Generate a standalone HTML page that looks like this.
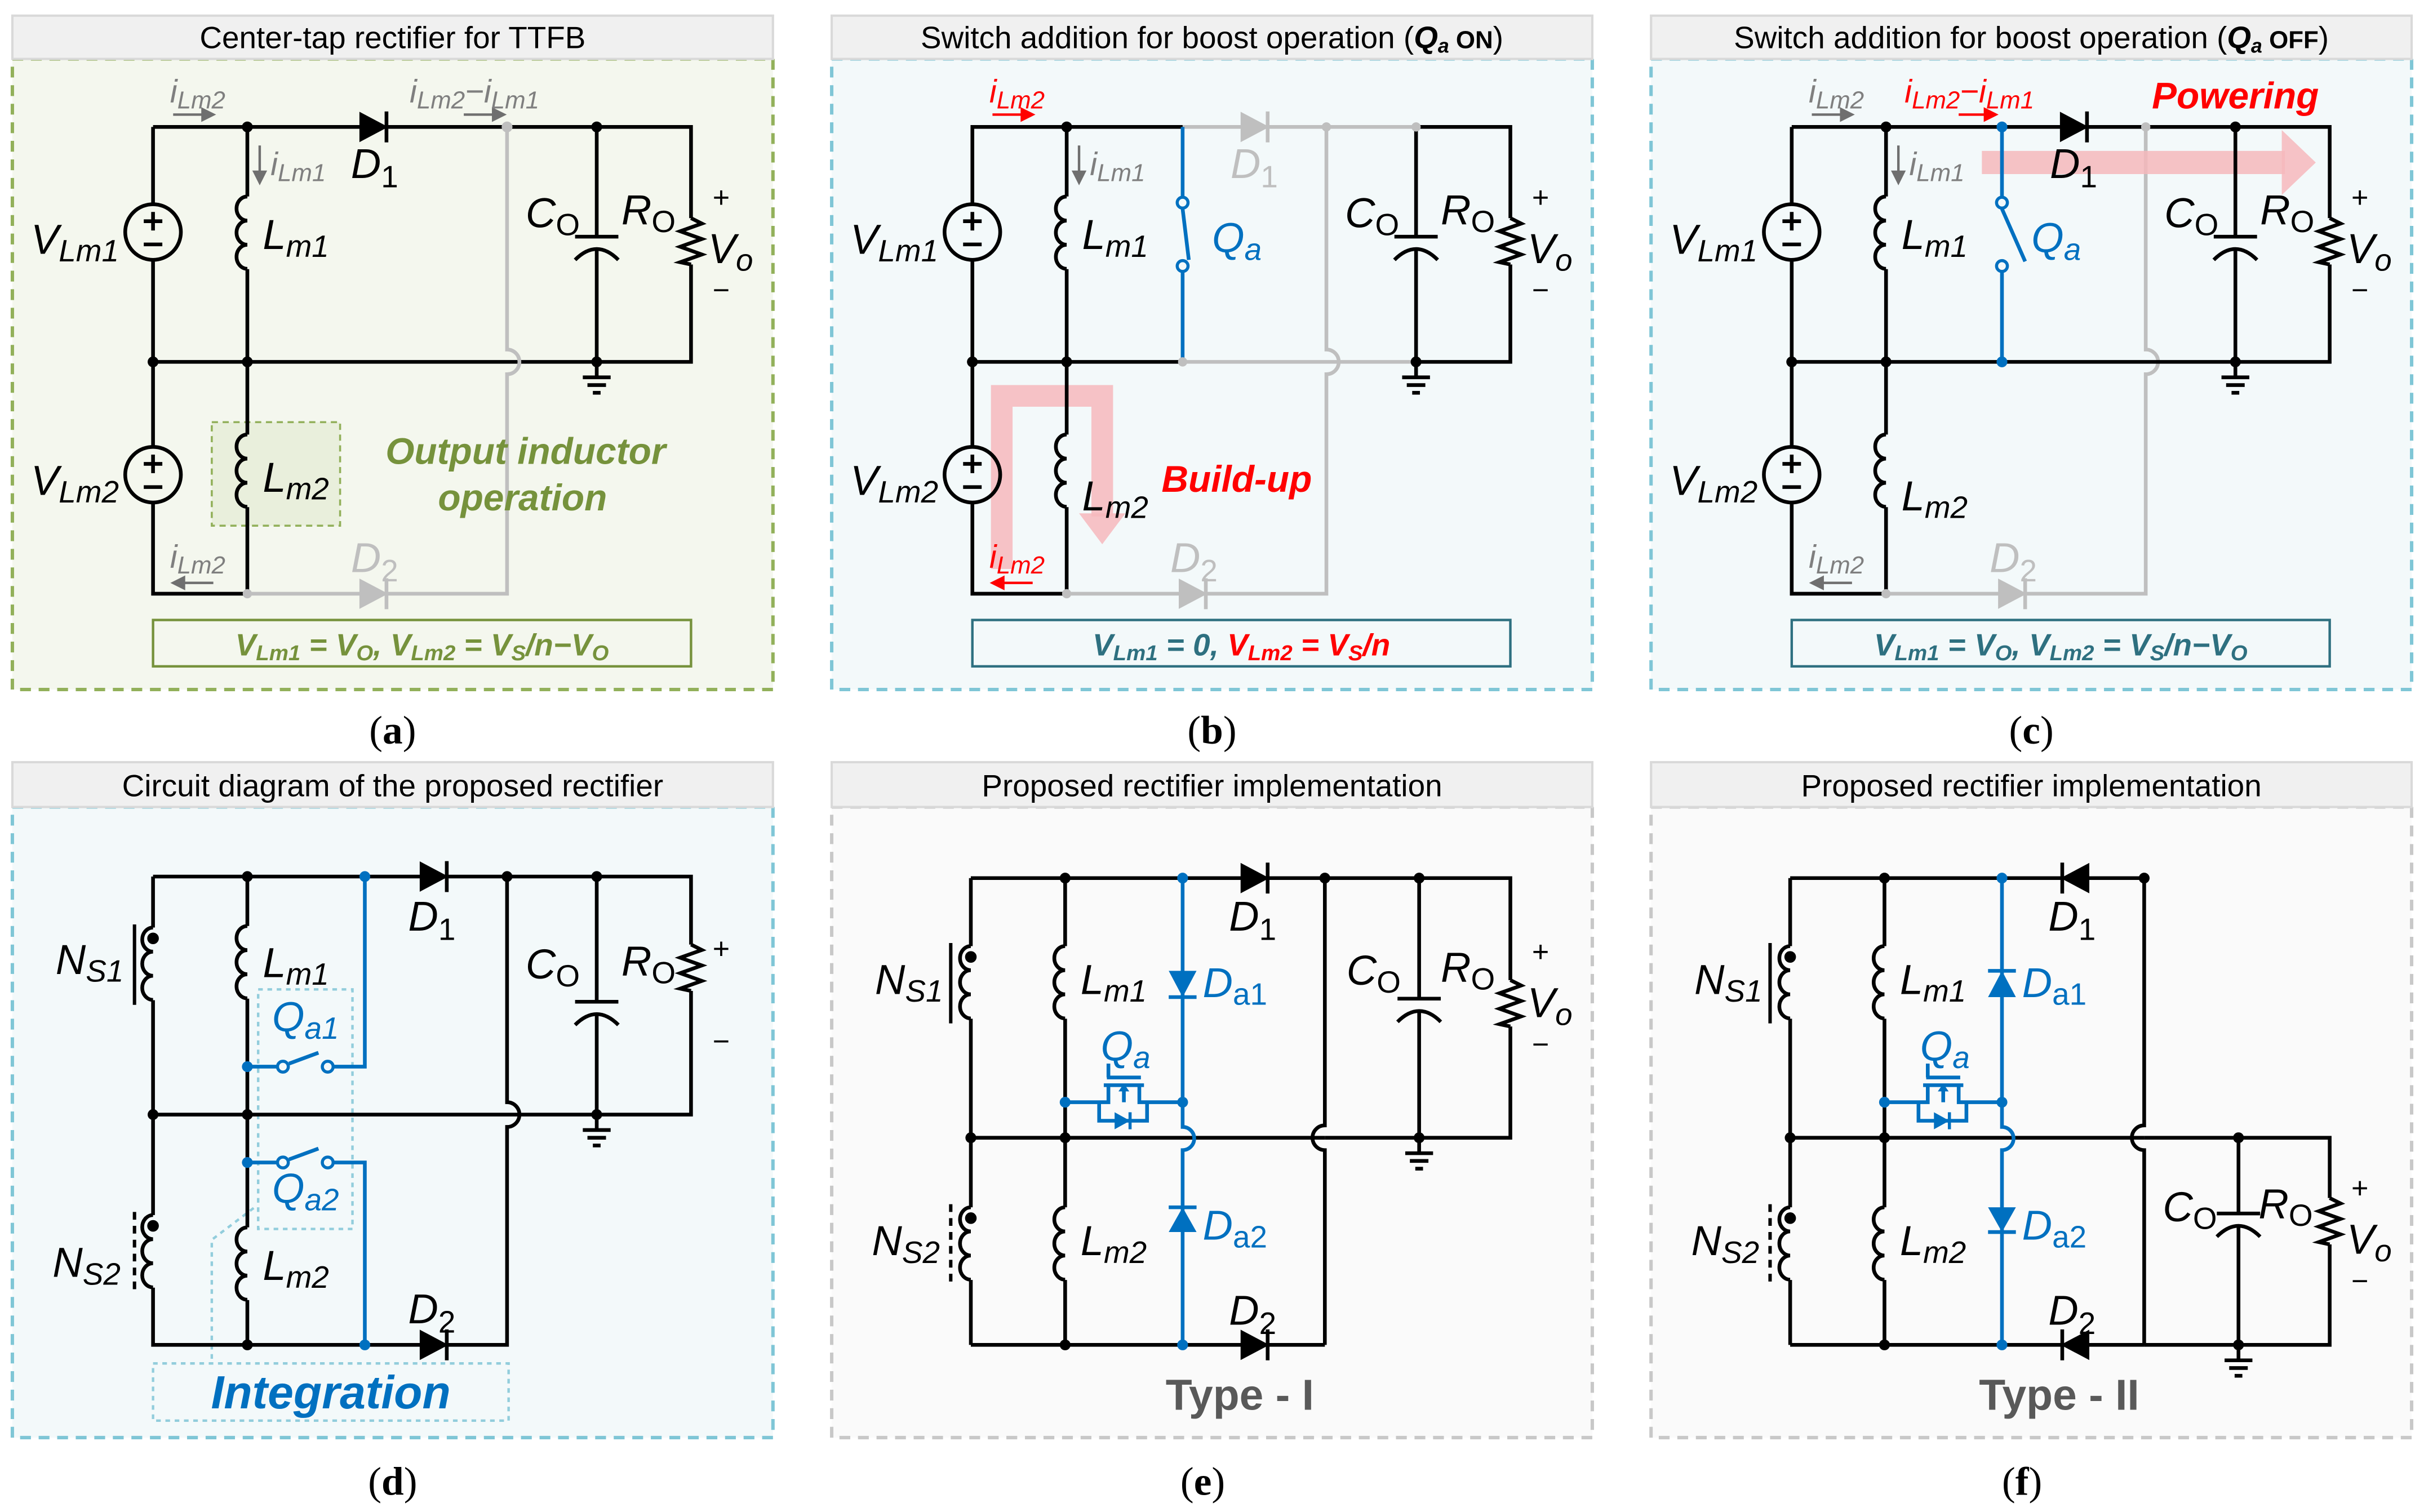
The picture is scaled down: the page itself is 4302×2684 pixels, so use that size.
<!DOCTYPE html>
<html><head><meta charset="utf-8">
<style>
html,body{margin:0;padding:0;background:#fff;}
svg{display:block;}
text{font-family:"Liberation Sans",Arial,sans-serif;}
.t{font-size:20px;fill:#000;}
.l{font-size:27px;font-style:italic;fill:#000;}
.c{font-size:21px;font-style:italic;fill:#7f7f7f;}
.cap{font-family:"Liberation Serif",serif;font-size:26px;fill:#000;}
.w{fill:none;stroke:#000;stroke-width:2.4;stroke-linejoin:miter;}
.g{fill:none;stroke:#bfbfbf;stroke-width:2.4;}
.b{fill:none;stroke:#0070c0;stroke-width:2.4;}
.pm{font-size:19px;fill:#000;}
</style></head><body>
<svg width="4302" height="2684" viewBox="0 0 1568 978" xmlns="http://www.w3.org/2000/svg">
<defs>
<path id="ind" d="M0 0 a7 7.8 0 0 0 0 15.6 a7 7.8 0 0 0 0 15.6 a7 7.8 0 0 0 0 15.6" fill="none" stroke-width="2.4"/>
<g id="dr"><polygon points="-9,-9 -9,9 8,0"/><line x1="8" y1="-10" x2="8" y2="10" stroke-width="2.4"/></g>
<g id="capS" fill="none" stroke-width="2.4"><line x1="-14" y1="0" x2="14" y2="0"/><path d="M-14 15 Q0 1 14 15"/></g>
<path id="res" d="M0 0 l7 3.5 l-14 5 l14 5 l-14 5 l14 5 l-14 5 l7 1.5" fill="none" stroke-width="2.4"/>
<g id="gnd" fill="none" stroke-width="2.4"><line x1="0" y1="0" x2="0" y2="10"/><line x1="-9" y1="10" x2="9" y2="10"/><line x1="-6" y1="15" x2="6" y2="15"/><line x1="-2.5" y1="20" x2="2.5" y2="20"/></g>
<g id="src" fill="none" stroke-width="2.4"><circle r="18"/><line x1="-6" y1="-7" x2="6" y2="-7"/><line x1="0" y1="-13" x2="0" y2="-1"/><line x1="-6" y1="8" x2="6" y2="8"/></g>
</defs>

<!-- ================= PANEL A ================= -->
<rect x="8" y="38" width="492" height="408" fill="#f4f7ee" stroke="#92b05a" stroke-width="2.2" stroke-dasharray="7 5"/>
<rect x="8" y="10" width="492" height="28" fill="#f0f0f0" stroke="#d9d9d9" stroke-width="1.5"/>
<text class="t" x="254" y="31" text-anchor="middle">Center-tap rectifier for TTFB</text>
<rect x="137" y="273" width="83" height="67" fill="#e9efdc" stroke="#92b05a" stroke-width="1.3" stroke-dasharray="4 3"/>
<path class="w" d="M99 82 H447 V141 M447 171 V234 H99 M99 82 V132 M99 168 V289 M99 325 V384 H160 M160 82 V127 M160 174 V281 M160 328 V384 M386 82 V153 M386 162 V234"/>
<use href="#ind" x="160" y="127" stroke="#000"/><use href="#ind" x="160" y="281" stroke="#000"/>
<use href="#dr" x="242" y="82" fill="#000" stroke="#000"/>
<use href="#capS" x="386" y="153" stroke="#000"/><use href="#res" x="447" y="141" stroke="#000"/>
<use href="#gnd" x="386" y="234" stroke="#000"/>
<use href="#src" x="99" y="150" stroke="#000"/><use href="#src" x="99" y="307" stroke="#000"/>
<path class="g" d="M160 384 H328 V242 a8 8 0 0 0 0 -16 V82"/>
<use href="#dr" x="242" y="384" fill="#bfbfbf" stroke="#bfbfbf"/>
<g fill="#000"><circle cx="160" cy="82" r="3.5"/><circle cx="99" cy="234" r="3.5"/><circle cx="160" cy="234" r="3.5"/><circle cx="386" cy="82" r="3.5"/><circle cx="386" cy="234" r="3.5"/></g>
<circle cx="328" cy="82" r="3.5" fill="#bfbfbf"/><circle cx="160" cy="384" r="3" fill="#bfbfbf"/>
<g stroke="#6f6f6f" stroke-width="1.6" fill="#6f6f6f">
<line x1="112" y1="74" x2="132" y2="74"/><polygon points="131,70.5 138,74 131,77.5"/>
<line x1="300" y1="74" x2="320" y2="74"/><polygon points="319,70.5 326,74 319,77.5"/>
<line x1="168" y1="94" x2="168" y2="112"/><polygon points="164.5,111 168,118 171.5,111"/>
<line x1="138" y1="377" x2="118" y2="377"/><polygon points="119,373.5 112,377 119,380.5"/>
</g>
<text class="c" x="110" y="66">i<tspan font-size="16" dy="4">Lm2</tspan></text>
<text class="c" x="175" y="113">i<tspan font-size="16" dy="4">Lm1</tspan></text>
<text class="c" x="265" y="66">i<tspan font-size="16" dy="4">Lm2</tspan><tspan dy="-4">−i</tspan><tspan font-size="16" dy="4">Lm1</tspan></text>
<text class="c" x="110" y="367">i<tspan font-size="16" dy="4">Lm2</tspan></text>
<text class="l" x="20" y="164">V<tspan font-size="20" dy="5">Lm1</tspan></text>
<text class="l" x="20" y="320">V<tspan font-size="20" dy="5">Lm2</tspan></text>
<text class="l" x="170" y="161">L<tspan font-size="20" dy="5">m1</tspan></text>
<text class="l" x="170" y="318">L<tspan font-size="20" dy="5">m2</tspan></text>
<text class="l" x="227" y="115">D<tspan font-size="20" dy="6" font-style="normal">1</tspan></text>
<text class="l" x="227" y="370" style="fill:#bfbfbf">D<tspan font-size="20" dy="6" font-style="normal">2</tspan></text>
<text class="l" x="340" y="147">C<tspan font-size="20" dy="5" font-style="normal">O</tspan></text>
<text class="l" x="402" y="145">R<tspan font-size="20" dy="5" font-style="normal">O</tspan></text>
<text class="pm" x="461" y="134">+</text><text class="pm" x="461" y="194">−</text>
<text class="l" x="458" y="170">V<tspan font-size="20" dy="5">o</tspan></text>
<text x="340" y="300" text-anchor="middle" font-size="24" font-weight="bold" font-style="italic" fill="#76923c">Output inductor</text>
<text x="338" y="330" text-anchor="middle" font-size="24" font-weight="bold" font-style="italic" fill="#76923c">operation</text>
<rect x="99" y="401" width="348" height="30" fill="none" stroke="#76923c" stroke-width="1.6"/>
<text x="273" y="424" text-anchor="middle" font-size="20" font-weight="bold" font-style="italic" fill="#76923c">V<tspan font-size="14" dy="3">Lm1</tspan><tspan dy="-3"> = V</tspan><tspan font-size="14" dy="3">O</tspan><tspan dy="-3">, V</tspan><tspan font-size="14" dy="3">Lm2</tspan><tspan dy="-3"> = V</tspan><tspan font-size="14" dy="3">S</tspan><tspan dy="-3">/n−V</tspan><tspan font-size="14" dy="3">O</tspan></text>
<text class="cap" x="254" y="481" text-anchor="middle">(<tspan font-weight="bold">a</tspan>)</text>

<!-- ================= PANEL B ================= -->
<g transform="translate(530,0)">
<rect x="8" y="38" width="492" height="408" fill="#f3f9fa" stroke="#7fc6d6" stroke-width="2.2" stroke-dasharray="7 5"/>
<rect x="8" y="10" width="492" height="28" fill="#f0f0f0" stroke="#d9d9d9" stroke-width="1.5"/>
<text class="t" x="254" y="31" text-anchor="middle">Switch addition for boost operation (<tspan font-weight="bold" font-style="italic">Q</tspan><tspan font-weight="bold" font-style="italic" font-size="13" dy="3">a</tspan><tspan font-weight="bold" font-size="16" dy="-3"> ON</tspan>)</text>
<path d="M118 368 V256 H183 V334" fill="none" stroke="#f6b9bc" stroke-width="14" opacity="0.85"/>
<polygon points="168,332 198,332 183,352" fill="#f6b9bc" opacity="0.85"/>
<path class="g" d="M235 82 H386 M235 234 H386 M160 384 H328 V242 a8 8 0 0 0 0 -16 V82"/>
<use href="#dr" x="282" y="82" fill="#bfbfbf" stroke="#bfbfbf"/>
<use href="#dr" x="242" y="384" fill="#bfbfbf" stroke="#bfbfbf"/>
<path class="w" d="M386 82 H447 V141 M447 171 V234 H386 M235 82 H99 V132 M99 168 V289 M99 325 V384 H160 M160 82 V127 M160 174 V281 M160 328 V384 M99 234 H235 M386 82 V153 M386 162 V234"/>
<use href="#ind" x="160" y="127" stroke="#000"/><use href="#ind" x="160" y="281" stroke="#000"/>
<use href="#capS" x="386" y="153" stroke="#000"/><use href="#res" x="447" y="141" stroke="#000"/>
<use href="#gnd" x="386" y="234" stroke="#000"/>
<use href="#src" x="99" y="150" stroke="#000"/><use href="#src" x="99" y="307" stroke="#000"/>
<path class="b" d="M235 82 V128 M235 135 L239 168 M235 176 V234"/>
<circle cx="235" cy="131" r="3.5" fill="#f3f9fa" stroke="#0070c0" stroke-width="2"/>
<circle cx="235" cy="172" r="3.5" fill="#f3f9fa" stroke="#0070c0" stroke-width="2"/>
<g fill="#000"><circle cx="160" cy="82" r="3.5"/><circle cx="99" cy="234" r="3.5"/><circle cx="160" cy="234" r="3.5"/><circle cx="386" cy="234" r="3.5"/></g>
<g fill="#bfbfbf"><circle cx="328" cy="82" r="3"/><circle cx="386" cy="82" r="3"/><circle cx="235" cy="234" r="3"/><circle cx="160" cy="384" r="3"/></g>
<g stroke="#ff0000" stroke-width="1.6" fill="#ff0000">
<line x1="112" y1="74" x2="132" y2="74"/><polygon points="131,70.5 138,74 131,77.5"/>
<line x1="138" y1="377" x2="118" y2="377"/><polygon points="119,373.5 112,377 119,380.5"/>
</g>
<g stroke="#6f6f6f" stroke-width="1.6" fill="#6f6f6f"><line x1="168" y1="94" x2="168" y2="112"/><polygon points="164.5,111 168,118 171.5,111"/></g>
<text class="c" x="110" y="66" style="fill:#ff0000">i<tspan font-size="16" dy="4">Lm2</tspan></text>
<text class="c" x="175" y="113">i<tspan font-size="16" dy="4">Lm1</tspan></text>
<text class="c" x="110" y="367" style="fill:#ff0000">i<tspan font-size="16" dy="4">Lm2</tspan></text>
<text class="l" x="20" y="164">V<tspan font-size="20" dy="5">Lm1</tspan></text>
<text class="l" x="20" y="320">V<tspan font-size="20" dy="5">Lm2</tspan></text>
<text class="l" x="170" y="161">L<tspan font-size="20" dy="5">m1</tspan></text>
<text class="l" x="170" y="330">L<tspan font-size="20" dy="5">m2</tspan></text>
<text class="l" x="266" y="115" style="fill:#bfbfbf">D<tspan font-size="20" dy="6" font-style="normal">1</tspan></text>
<text class="l" x="227" y="370" style="fill:#bfbfbf">D<tspan font-size="20" dy="6" font-style="normal">2</tspan></text>
<text class="l" x="254" y="163" style="fill:#0070c0">Q<tspan font-size="20" dy="5">a</tspan></text>
<text class="l" x="340" y="147">C<tspan font-size="20" dy="5" font-style="normal">O</tspan></text>
<text class="l" x="402" y="145">R<tspan font-size="20" dy="5" font-style="normal">O</tspan></text>
<text class="pm" x="461" y="134">+</text><text class="pm" x="461" y="194">−</text>
<text class="l" x="458" y="170">V<tspan font-size="20" dy="5">o</tspan></text>
<text x="270" y="318" text-anchor="middle" font-size="24" font-weight="bold" font-style="italic" fill="#ff0000">Build-up</text>
<rect x="99" y="401" width="348" height="30" fill="none" stroke="#2e7080" stroke-width="1.6"/>
<text x="273" y="424" text-anchor="middle" font-size="20" font-weight="bold" font-style="italic" fill="#2e7080">V<tspan font-size="14" dy="3">Lm1</tspan><tspan dy="-3"> = 0, </tspan><tspan fill="#ff0000">V</tspan><tspan font-size="14" dy="3" fill="#ff0000">Lm2</tspan><tspan dy="-3" fill="#ff0000"> = V</tspan><tspan font-size="14" dy="3" fill="#ff0000">S</tspan><tspan dy="-3" fill="#ff0000">/n</tspan></text>
<text class="cap" x="254" y="481" text-anchor="middle">(<tspan font-weight="bold">b</tspan>)</text>
</g>

<!-- ================= PANEL C ================= -->
<g transform="translate(1060,0)">
<rect x="8" y="38" width="492" height="408" fill="#f3f9fa" stroke="#7fc6d6" stroke-width="2.2" stroke-dasharray="7 5"/>
<rect x="8" y="10" width="492" height="28" fill="#f0f0f0" stroke="#d9d9d9" stroke-width="1.5"/>
<text class="t" x="254" y="31" text-anchor="middle">Switch addition for boost operation (<tspan font-weight="bold" font-style="italic">Q</tspan><tspan font-weight="bold" font-style="italic" font-size="13" dy="3">a</tspan><tspan font-weight="bold" font-size="16" dy="-3"> OFF</tspan>)</text>
<path class="g" d="M160 384 H328 V242 a8 8 0 0 0 0 -16 V82"/>
<use href="#dr" x="242" y="384" fill="#bfbfbf" stroke="#bfbfbf"/>
<path d="M222 105 H418" stroke="#f6b9bc" stroke-width="15" opacity="0.85"/>
<polygon points="416,84 416,126 438,105" fill="#f6b9bc" opacity="0.85"/>
<path class="w" d="M99 82 H447 V141 M447 171 V234 H99 M99 82 V132 M99 168 V289 M99 325 V384 H160 M160 82 V127 M160 174 V281 M160 328 V384 M386 82 V153 M386 162 V234"/>
<use href="#ind" x="160" y="127" stroke="#000"/><use href="#ind" x="160" y="281" stroke="#000"/>
<use href="#dr" x="282" y="82" fill="#000" stroke="#000"/>
<use href="#capS" x="386" y="153" stroke="#000"/><use href="#res" x="447" y="141" stroke="#000"/>
<use href="#gnd" x="386" y="234" stroke="#000"/>
<use href="#src" x="99" y="150" stroke="#000"/><use href="#src" x="99" y="307" stroke="#000"/>
<path class="b" d="M235 82 V128 M235 135 L250 169 M235 176 V234"/>
<circle cx="235" cy="131" r="3.5" fill="#f3f9fa" stroke="#0070c0" stroke-width="2"/>
<circle cx="235" cy="172" r="3.5" fill="#f3f9fa" stroke="#0070c0" stroke-width="2"/>
<g fill="#0070c0"><circle cx="235" cy="82" r="3.5"/><circle cx="235" cy="234" r="3.5"/></g>
<g fill="#000"><circle cx="160" cy="82" r="3.5"/><circle cx="99" cy="234" r="3.5"/><circle cx="160" cy="234" r="3.5"/><circle cx="386" cy="82" r="3.5"/><circle cx="386" cy="234" r="3.5"/></g>
<circle cx="328" cy="82" r="3" fill="#bfbfbf"/><circle cx="160" cy="384" r="3" fill="#bfbfbf"/>
<g stroke="#6f6f6f" stroke-width="1.6" fill="#6f6f6f">
<line x1="112" y1="74" x2="132" y2="74"/><polygon points="131,70.5 138,74 131,77.5"/>
<line x1="168" y1="94" x2="168" y2="112"/><polygon points="164.5,111 168,118 171.5,111"/>
<line x1="138" y1="377" x2="118" y2="377"/><polygon points="119,373.5 112,377 119,380.5"/>
</g>
<g stroke="#ff0000" stroke-width="1.6" fill="#ff0000"><line x1="207" y1="74" x2="225" y2="74"/><polygon points="224,70.5 231,74 224,77.5"/></g>
<text class="c" x="110" y="66">i<tspan font-size="16" dy="4">Lm2</tspan></text>
<text class="c" x="175" y="113">i<tspan font-size="16" dy="4">Lm1</tspan></text>
<text class="c" x="172" y="66" style="fill:#ff0000">i<tspan font-size="16" dy="4">Lm2</tspan><tspan dy="-4">−i</tspan><tspan font-size="16" dy="4">Lm1</tspan></text>
<text class="c" x="110" y="367">i<tspan font-size="16" dy="4">Lm2</tspan></text>
<text class="l" x="20" y="164">V<tspan font-size="20" dy="5">Lm1</tspan></text>
<text class="l" x="20" y="320">V<tspan font-size="20" dy="5">Lm2</tspan></text>
<text class="l" x="170" y="161">L<tspan font-size="20" dy="5">m1</tspan></text>
<text class="l" x="170" y="330">L<tspan font-size="20" dy="5">m2</tspan></text>
<text class="l" x="266" y="115">D<tspan font-size="20" dy="6" font-style="normal">1</tspan></text>
<text class="l" x="227" y="370" style="fill:#bfbfbf">D<tspan font-size="20" dy="6" font-style="normal">2</tspan></text>
<text class="l" x="254" y="163" style="fill:#0070c0">Q<tspan font-size="20" dy="5">a</tspan></text>
<text class="l" x="340" y="147">C<tspan font-size="20" dy="5" font-style="normal">O</tspan></text>
<text class="l" x="402" y="145">R<tspan font-size="20" dy="5" font-style="normal">O</tspan></text>
<text class="pm" x="461" y="134">+</text><text class="pm" x="461" y="194">−</text>
<text class="l" x="458" y="170">V<tspan font-size="20" dy="5">o</tspan></text>
<text x="386" y="70" text-anchor="middle" font-size="24" font-weight="bold" font-style="italic" fill="#ff0000">Powering</text>
<rect x="99" y="401" width="348" height="30" fill="none" stroke="#2e7080" stroke-width="1.6"/>
<text x="273" y="424" text-anchor="middle" font-size="20" font-weight="bold" font-style="italic" fill="#2e7080">V<tspan font-size="14" dy="3">Lm1</tspan><tspan dy="-3"> = V</tspan><tspan font-size="14" dy="3">O</tspan><tspan dy="-3">, V</tspan><tspan font-size="14" dy="3">Lm2</tspan><tspan dy="-3"> = V</tspan><tspan font-size="14" dy="3">S</tspan><tspan dy="-3">/n−V</tspan><tspan font-size="14" dy="3">O</tspan></text>
<text class="cap" x="254" y="481" text-anchor="middle">(<tspan font-weight="bold">c</tspan>)</text>
</g>

<!-- ================= PANEL D ================= -->
<rect x="8" y="522" width="492" height="408" fill="#f3f9fa" stroke="#7fc6d6" stroke-width="2.2" stroke-dasharray="7 5"/>
<rect x="8" y="493" width="492" height="29" fill="#f0f0f0" stroke="#d9d9d9" stroke-width="1.5"/>
<text class="t" x="254" y="515" text-anchor="middle">Circuit diagram of the proposed rectifier</text>
<rect x="167" y="640" width="61" height="155" fill="none" stroke="#92cddc" stroke-width="1.6" stroke-dasharray="3 3"/>
<path d="M137 879 V802 L166 780" fill="none" stroke="#92cddc" stroke-width="1.6" stroke-dasharray="3 3"/>
<rect x="99" y="882" width="230" height="37" fill="none" stroke="#92cddc" stroke-width="1.6" stroke-dasharray="3 3"/>
<path class="w" d="M99 567 H447 V611 M447 641 V721 H99 M99 567 V600 M99 647 V786 M99 833 V870 H328 V729 a8 8 0 0 0 0 -16 V567 M160 567 V599 M160 646 V794 M160 841 V870 M386 567 V648 M386 657 V721"/>
<use href="#ind" x="160" y="599" stroke="#000"/><use href="#ind" x="160" y="794" stroke="#000"/>
<use href="#ind" x="99" y="600" stroke="#000"/><use href="#ind" x="99" y="786" stroke="#000"/>
<line x1="87" y1="598" x2="87" y2="650" stroke="#000" stroke-width="2.2"/>
<line x1="87" y1="784" x2="87" y2="836" stroke="#000" stroke-width="2.2" stroke-dasharray="5 4"/>
<circle cx="99" cy="607" r="4.5" fill="#000" stroke="#f3f9fa" stroke-width="1.5"/>
<circle cx="99" cy="793" r="4.5" fill="#000" stroke="#f3f9fa" stroke-width="1.5"/>
<use href="#dr" x="281" y="567" fill="#000" stroke="#000"/>
<use href="#dr" x="281" y="870" fill="#000" stroke="#000"/>
<use href="#capS" x="386" y="648" stroke="#000"/><use href="#res" x="447" y="611" stroke="#000"/>
<use href="#gnd" x="386" y="721" stroke="#000"/>
<g fill="#000"><circle cx="160" cy="567" r="3.5"/><circle cx="99" cy="721" r="3.5"/><circle cx="160" cy="721" r="3.5"/><circle cx="328" cy="567" r="3.5"/><circle cx="386" cy="567" r="3.5"/><circle cx="386" cy="721" r="3.5"/><circle cx="160" cy="870" r="3.5"/></g>
<path class="b" d="M236 567 V690 H216 M179 690 H160 M187 688 L206 681 M160 752 H179 M187 750 L206 743 M216 752 H236 V870"/>
<g fill="#f3f9fa" stroke="#0070c0" stroke-width="2"><circle cx="183" cy="690" r="3.5"/><circle cx="212" cy="690" r="3.5"/><circle cx="183" cy="752" r="3.5"/><circle cx="212" cy="752" r="3.5"/></g>
<g fill="#0070c0"><circle cx="236" cy="567" r="3.5"/><circle cx="236" cy="870" r="3.5"/><circle cx="160" cy="690" r="3.5"/><circle cx="160" cy="752" r="3.5"/></g>
<text class="l" x="36" y="630">N<tspan font-size="20" dy="5">S1</tspan></text>
<text class="l" x="34" y="826">N<tspan font-size="20" dy="5">S2</tspan></text>
<text class="l" x="170" y="632">L<tspan font-size="20" dy="5">m1</tspan></text>
<text class="l" x="170" y="828">L<tspan font-size="20" dy="5">m2</tspan></text>
<text class="l" x="176" y="667" style="fill:#0070c0">Q<tspan font-size="20" dy="5">a1</tspan></text>
<text class="l" x="176" y="778" style="fill:#0070c0">Q<tspan font-size="20" dy="5">a2</tspan></text>
<text class="l" x="264" y="602">D<tspan font-size="20" dy="6" font-style="normal">1</tspan></text>
<text class="l" x="264" y="856">D<tspan font-size="20" dy="6" font-style="normal">2</tspan></text>
<text class="l" x="340" y="633">C<tspan font-size="20" dy="5" font-style="normal">O</tspan></text>
<text class="l" x="402" y="631">R<tspan font-size="20" dy="5" font-style="normal">O</tspan></text>
<text class="pm" x="461" y="620">+</text><text class="pm" x="461" y="680">−</text>
<text x="214" y="911" text-anchor="middle" font-size="30" font-weight="bold" font-style="italic" fill="#0070c0">Integration</text>
<text class="cap" x="254" y="967" text-anchor="middle">(<tspan font-weight="bold">d</tspan>)</text>

<!-- ================= PANEL E ================= -->
<rect x="538" y="522" width="492" height="408" fill="#fafafa" stroke="#c8c8c8" stroke-width="2.2" stroke-dasharray="7 5"/>
<rect x="538" y="493" width="492" height="29" fill="#f0f0f0" stroke="#d9d9d9" stroke-width="1.5"/>
<text class="t" x="784" y="515" text-anchor="middle">Proposed rectifier implementation</text>
<g id="core">
<path class="w" d="M628 568 H857 M628 870 H857 M857 568 V728 a8 8 0 0 0 0 16 V870 M628 568 V612 M628 659 V781 M628 828 V870 M689 568 V612 M689 659 V781 M689 828 V870 M628 736 H857"/>
<use href="#ind" x="628" y="612" stroke="#000"/><use href="#ind" x="628" y="781" stroke="#000"/>
<use href="#ind" x="689" y="612" stroke="#000"/><use href="#ind" x="689" y="781" stroke="#000"/>
<line x1="615" y1="610" x2="615" y2="662" stroke="#000" stroke-width="2.2"/>
<line x1="615" y1="779" x2="615" y2="831" stroke="#000" stroke-width="2.2" stroke-dasharray="5 4"/>
<circle cx="628" cy="619" r="4.5" fill="#000" stroke="#fafafa" stroke-width="1.5"/>
<circle cx="628" cy="788" r="4.5" fill="#000" stroke="#fafafa" stroke-width="1.5"/>
<path class="b" d="M765 568 V729 a7.5 7.5 0 0 1 0 15 V870 M689 713 H717 V702 M737 702 V713 H765 M711 713 V725 H742 V713 M714 702 H740 M716 697 H738 M717 697 V688 M727 713 V705"/>
<polygon points="723.5,706 727,701 730.5,706" fill="#0070c0"/>
<polygon points="721,719.5 721,730.5 731,725" fill="#0070c0"/>
<line x1="731" y1="719.5" x2="731" y2="730.5" stroke="#0070c0" stroke-width="2"/>
<g fill="#000"><circle cx="689" cy="568" r="3.5"/><circle cx="628" cy="736" r="3.5"/><circle cx="689" cy="736" r="3.5"/><circle cx="689" cy="870" r="3.5"/><circle cx="857" cy="568" r="3.5"/></g>
<g fill="#0070c0"><circle cx="765" cy="568" r="3.5"/><circle cx="765" cy="870" r="3.5"/><circle cx="689" cy="713" r="3.5"/><circle cx="765" cy="713" r="3.5"/></g>
</g>
<polygon points="756,628 774,628 765,645" fill="#0070c0"/><line x1="756" y1="645" x2="774" y2="645" stroke="#0070c0" stroke-width="2.4"/>
<polygon points="756,797 774,797 765,781" fill="#0070c0"/><line x1="756" y1="781" x2="774" y2="781" stroke="#0070c0" stroke-width="2.4"/>
<use href="#dr" x="812" y="568" fill="#000" stroke="#000"/>
<use href="#dr" x="812" y="870" fill="#000" stroke="#000"/>
<path class="w" d="M857 568 H977 V634 M977 664 V736 H857 M918 568 V646 M918 655 V736"/>
<use href="#capS" x="918" y="646" stroke="#000"/><use href="#res" x="977" y="634" stroke="#000"/>
<use href="#gnd" x="918" y="736" stroke="#000"/>
<g fill="#000"><circle cx="918" cy="568" r="3.5"/><circle cx="918" cy="736" r="3.5"/></g>
<text class="l" x="566" y="643">N<tspan font-size="20" dy="5">S1</tspan></text>
<text class="l" x="564" y="812">N<tspan font-size="20" dy="5">S2</tspan></text>
<text class="l" x="699" y="643">L<tspan font-size="20" dy="5">m1</tspan></text>
<text class="l" x="699" y="812">L<tspan font-size="20" dy="5">m2</tspan></text>
<text class="l" x="712" y="686" style="fill:#0070c0">Q<tspan font-size="20" dy="5">a</tspan></text>
<text class="l" x="778" y="645" style="fill:#0070c0">D<tspan font-size="20" dy="5" font-style="normal">a1</tspan></text>
<text class="l" x="778" y="802" style="fill:#0070c0">D<tspan font-size="20" dy="5" font-style="normal">a2</tspan></text>
<text class="l" x="795" y="602">D<tspan font-size="20" dy="6" font-style="normal">1</tspan></text>
<text class="l" x="795" y="857">D<tspan font-size="20" dy="6" font-style="normal">2</tspan></text>
<text class="l" x="871" y="637">C<tspan font-size="20" dy="5" font-style="normal">O</tspan></text>
<text class="l" x="932" y="635">R<tspan font-size="20" dy="5" font-style="normal">O</tspan></text>
<text class="pm" x="991" y="622">+</text><text class="pm" x="991" y="682">−</text>
<text class="l" x="988" y="658">V<tspan font-size="20" dy="5">o</tspan></text>
<text x="802" y="912" text-anchor="middle" font-size="28" font-weight="bold" fill="#595959">Type - I</text>
<text class="cap" x="778" y="967" text-anchor="middle">(<tspan font-weight="bold">e</tspan>)</text>

<!-- ================= PANEL F ================= -->
<rect x="1068" y="522" width="492" height="408" fill="#fafafa" stroke="#c8c8c8" stroke-width="2.2" stroke-dasharray="7 5"/>
<rect x="1068" y="493" width="492" height="29" fill="#f0f0f0" stroke="#d9d9d9" stroke-width="1.5"/>
<text class="t" x="1314" y="515" text-anchor="middle">Proposed rectifier implementation</text>
<use href="#core" x="530" y="0"/>
<polygon points="1286,645 1304,645 1295,628" fill="#0070c0"/><line x1="1286" y1="628" x2="1304" y2="628" stroke="#0070c0" stroke-width="2.4"/>
<polygon points="1286,781 1304,781 1295,797" fill="#0070c0"/><line x1="1286" y1="797" x2="1304" y2="797" stroke="#0070c0" stroke-width="2.4"/>
<use href="#dr" x="1342" y="568" fill="#000" stroke="#000" transform="rotate(180 1342 568)"/>
<use href="#dr" x="1342" y="870" fill="#000" stroke="#000" transform="rotate(180 1342 870)"/>
<path class="w" d="M1387 736 H1507 V775 M1507 805 V870 H1387 M1448 736 V785 M1448 794 V870"/>
<use href="#capS" x="1448" y="785" stroke="#000"/><use href="#res" x="1507" y="775" stroke="#000"/>
<use href="#gnd" x="1448" y="870" stroke="#000"/>
<g fill="#000"><circle cx="1448" cy="736" r="3.5"/><circle cx="1448" cy="870" r="3.5"/></g>
<text class="l" x="1096" y="643">N<tspan font-size="20" dy="5">S1</tspan></text>
<text class="l" x="1094" y="812">N<tspan font-size="20" dy="5">S2</tspan></text>
<text class="l" x="1229" y="643">L<tspan font-size="20" dy="5">m1</tspan></text>
<text class="l" x="1229" y="812">L<tspan font-size="20" dy="5">m2</tspan></text>
<text class="l" x="1242" y="686" style="fill:#0070c0">Q<tspan font-size="20" dy="5">a</tspan></text>
<text class="l" x="1308" y="645" style="fill:#0070c0">D<tspan font-size="20" dy="5" font-style="normal">a1</tspan></text>
<text class="l" x="1308" y="802" style="fill:#0070c0">D<tspan font-size="20" dy="5" font-style="normal">a2</tspan></text>
<text class="l" x="1325" y="602">D<tspan font-size="20" dy="6" font-style="normal">1</tspan></text>
<text class="l" x="1325" y="857">D<tspan font-size="20" dy="6" font-style="normal">2</tspan></text>
<text class="l" x="1399" y="790">C<tspan font-size="20" dy="5" font-style="normal">O</tspan></text>
<text class="l" x="1461" y="788">R<tspan font-size="20" dy="5" font-style="normal">O</tspan></text>
<text class="pm" x="1521" y="775">+</text><text class="pm" x="1521" y="835">−</text>
<text class="l" x="1518" y="811">V<tspan font-size="20" dy="5">o</tspan></text>
<text x="1332" y="912" text-anchor="middle" font-size="28" font-weight="bold" fill="#595959">Type - II</text>
<text class="cap" x="1308" y="967" text-anchor="middle">(<tspan font-weight="bold">f</tspan>)</text>
</svg>
</body></html>
